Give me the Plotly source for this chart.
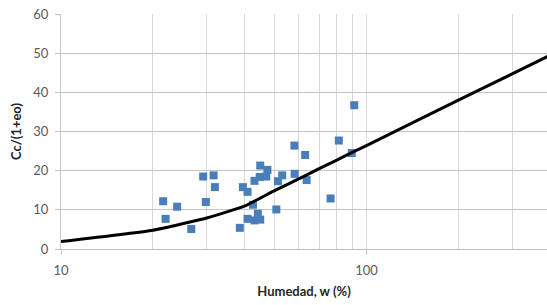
import numpy as np
import plotly.graph_objects as go

# Scatter data: Humedad w (%) vs Cc/(1+eo)
w_pts = [21.6, 22.0, 24.0, 26.7, 29.2, 29.8, 31.6, 31.9, 38.5, 39.4, 40.8, 40.8,
         42.5, 43.0, 43.0, 44.1, 44.7, 44.9, 44.9, 47.0, 47.4, 50.7, 51.3, 53.0,
         58.1, 58.2, 63.0, 63.7, 76.3, 81.2, 89.5, 91.2]
cc_pts = [12.2, 7.7, 10.8, 5.1, 18.5, 12.0, 18.8, 15.8, 5.4, 15.8, 14.6, 7.7,
          11.3, 17.4, 7.3, 9.0, 18.4, 21.3, 7.5, 18.5, 20.2, 10.1, 17.3, 18.8,
          26.4, 19.2, 24.0, 17.6, 12.9, 27.7, 24.5, 36.7]

# Reference curve
w_line = [10, 20, 30, 40, 50, 60, 70, 80, 90, 100, 200, 300, 400]
cc_line = [1.9, 4.8, 7.9, 11.0, 14.9, 17.9, 20.5, 22.7, 24.7, 26.4, 38.0, 44.7, 49.5]

# Axis ticks
x_major = [10, 100]
x_minor = [20, 30, 40, 50, 60, 70, 80, 90, 200, 300]
y_ticks = [0, 10, 20, 30, 40, 50, 60]

fig = go.Figure()
fig.add_trace(go.Scatter(
    x=w_pts, y=cc_pts, mode="markers",
    marker=dict(symbol="square", size=8, color="#4a7ebb"),
    showlegend=False, cliponaxis=True))
fig.add_trace(go.Scatter(
    x=w_line, y=cc_line, mode="lines",
    line=dict(color="#000000", width=3, shape="spline", smoothing=0.4),
    showlegend=False))

font_fam = "Lato, 'Open Sans', sans-serif"
fig.update_layout(
    width=547, height=305,
    margin=dict(l=61, r=0, t=14, b=55.5, autoexpand=False),
    paper_bgcolor="white", plot_bgcolor="white",
    font=dict(family=font_fam, size=13, color="#595959"),
    xaxis=dict(
        type="log", range=[1, np.log10(390)],
        tickvals=x_major, ticktext=["10", "100"],
        ticks="outside", ticklen=5, tickcolor="#c8c8c8",
        ticklabelstandoff=4,
        showgrid=True, gridcolor="#d9d9d9", gridwidth=1,
        minor=dict(tickvals=x_minor, showgrid=True, gridcolor="#d9d9d9", gridwidth=1, ticks=""),
        showline=True, linecolor="#bfbfbf", linewidth=1,
        zeroline=False, automargin=False,
        title=dict(text="<b>Humedad, w (%)</b>", standoff=10,
                   font=dict(family=font_fam, size=13, color="#262626")),
    ),
    yaxis=dict(
        range=[0, 60], tickvals=y_ticks,
        ticks="outside", ticklen=5, tickcolor="#bfbfbf",
        ticklabelstandoff=4,
        showgrid=True, gridcolor="#c4c4c4", gridwidth=1,
        showline=True, linecolor="#c8c8c8", linewidth=1,
        zeroline=False, automargin=False,
        title=dict(text="<b>Cc/(1+eo)</b>", standoff=8,
                   font=dict(family=font_fam, size=13, color="#262626")),
    ),
)

fig.write_html("out.html",
               config={"displayModeBar": False},
               post_script="document.body.style.margin='0px';document.body.style.overflow='hidden';")
